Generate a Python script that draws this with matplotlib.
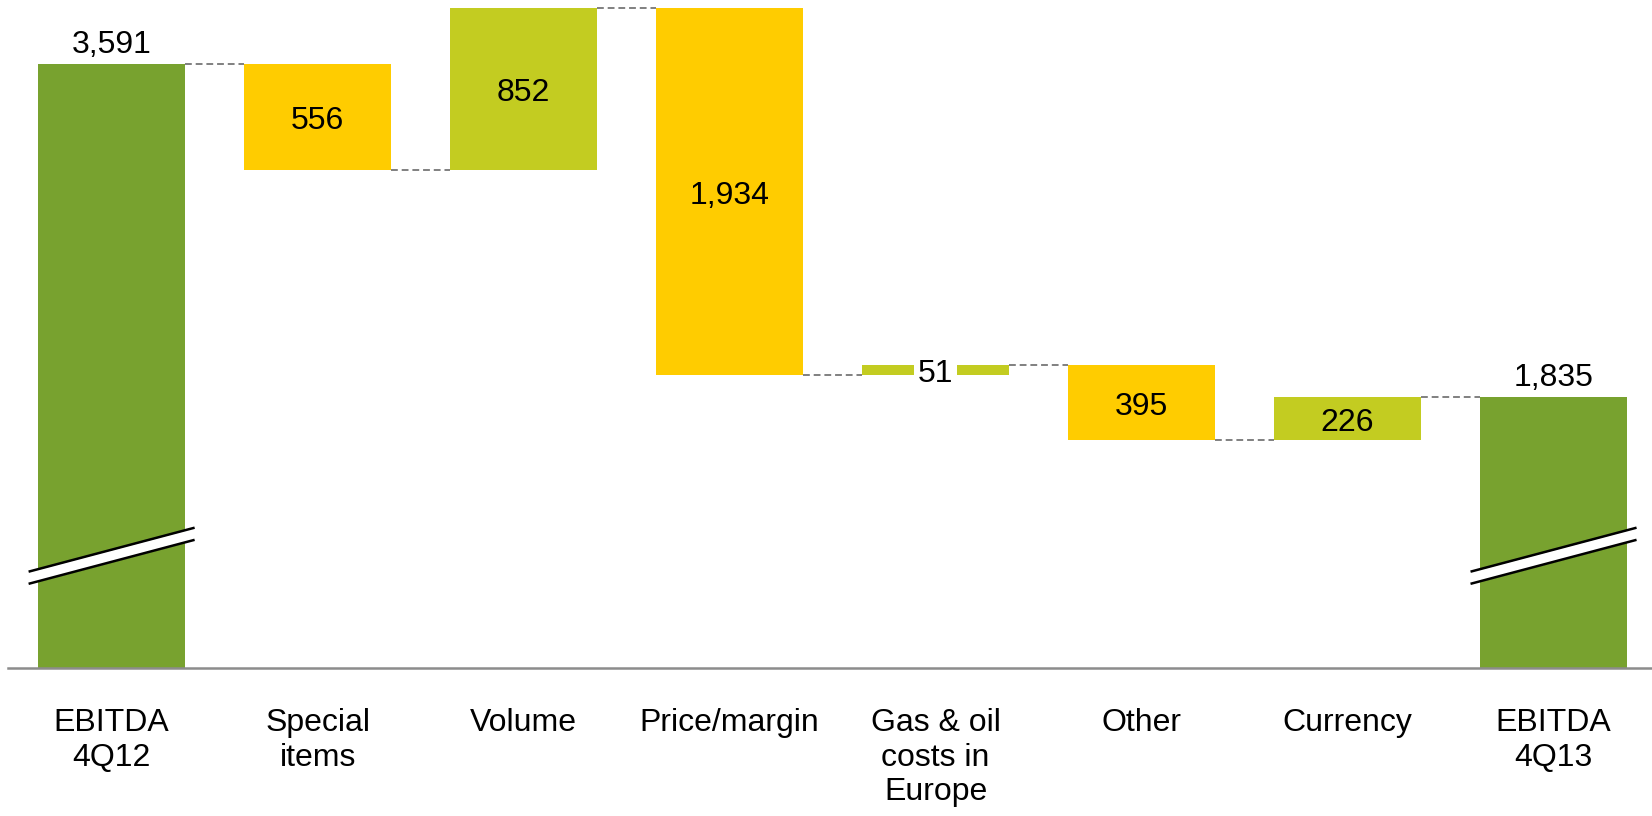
import matplotlib
matplotlib.use("Agg")
import matplotlib.pyplot as plt
import numpy as np

plt.rcParams['font.family'] = ['Liberation Sans', 'DejaVu Sans']

categories = ["EBITDA\n4Q12", "Special\nitems", "Volume", "Price/margin",
              "Gas & oil\ncosts in\nEurope", "Other", "Currency", "EBITDA\n4Q13"]
start_value = 3591
changes = [-556, 852, -1934, 51, -395, 226]
end_value = 1835
value_labels = ["3,591", "556", "852", "1,934", "51", "395", "226", "1,835"]

c_total = "#78A22F"
c_down = "#FFCC00"
c_up = "#C3CC21"
c_conn = "#808080"

fig = plt.figure(figsize=(16.52, 8.16), dpi=100)
ax = fig.add_axes([8/1652, 1 - 668/816, 1644/1652, 668/816])
ax.set_xlim(-0.503, 7.478)
ax.set_ylim(408, 3931)

width = 0.71
x = np.arange(len(categories))

# compute waterfall
bottoms, heights, colors = [], [], []
running = start_value
bottoms.append(0); heights.append(start_value); colors.append(c_total)
levels = [start_value]
for ch in changes:
    new = running + ch
    bottoms.append(min(running, new))
    heights.append(abs(ch))
    colors.append(c_up if ch > 0 else c_down)
    running = new
    levels.append(running)
bottoms.append(0); heights.append(end_value); colors.append(c_total)

ax.bar(x, heights, bottom=bottoms, width=width, color=colors, zorder=2)

# connectors
for i in range(len(categories) - 1):
    lvl = levels[i]
    ax.plot([x[i] + width/2, x[i+1] - width/2], [lvl, lvl], color=c_conn,
            lw=1.4, ls=(0, (3.5, 2)), zorder=1)

# labels
fs = 23
for i in range(len(categories)):
    if i in (0, len(categories) - 1):
        ax.annotate(value_labels[i], (x[i], heights[i]), xytext=(0, 3),
                    textcoords="offset points", ha="center", va="bottom", fontsize=fs)
    else:
        cy = bottoms[i] + heights[i] / 2
        kw = {}
        if heights[i] < 150:
            kw['bbox'] = dict(facecolor="white", edgecolor="none", pad=3)
        ax.annotate(value_labels[i], (x[i], cy), xytext=(0, -3),
                    textcoords="offset points", ha="center", va="center",
                    fontsize=fs, zorder=4, **kw)

# axis break marks
brk_val = 1000
hx = 0.403
dy = 116
gap = 32
for i in (0, len(categories) - 1):
    xs = np.array([x[i] - hx, x[i] + hx])
    upper = np.array([brk_val + gap - dy, brk_val + gap + dy])
    lower = np.array([brk_val - gap - dy, brk_val - gap + dy])
    ax.fill_between(xs, lower, upper, color="white", zorder=3, lw=0)
    ax.plot(xs, upper, color="black", lw=1.8, zorder=3, solid_capstyle="butt")
    ax.plot(xs, lower, color="black", lw=1.8, zorder=3, solid_capstyle="butt")

for s in ("top", "left", "right"):
    ax.spines[s].set_visible(False)
ax.spines["bottom"].set_color("#8c8c8c")
ax.spines["bottom"].set_linewidth(1.8)
ax.set_yticks([])
ax.set_xticks(x)
ax.set_xticklabels(categories, fontsize=fs, linespacing=1.2)
ax.tick_params(axis="x", length=0, pad=29)

fig.savefig("out.png", dpi=100)
